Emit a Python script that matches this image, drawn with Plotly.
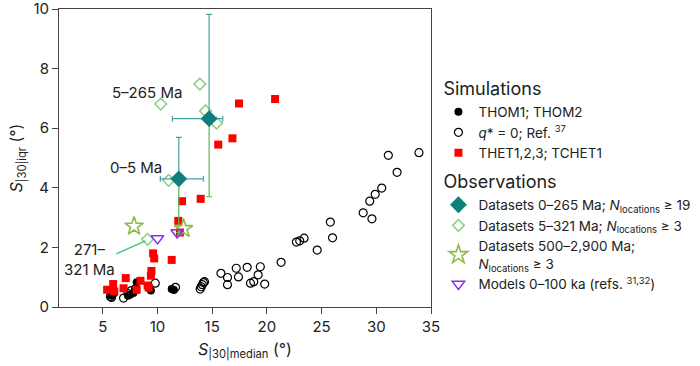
import plotly.graph_objects as go

# ---------------- data ----------------
q0_x = [5.7, 5.8, 6.9, 7.3, 7.6, 8.0, 9.8, 11.65, 13.9, 14.0, 14.1, 14.2, 14.3,
        15.8, 16.4, 16.4, 17.2, 17.4, 18.2, 18.5, 18.8, 19.2, 19.4, 19.8, 21.3,
        22.7, 23.0, 23.4, 24.6, 25.8, 26.0, 28.8, 29.6, 29.4, 29.9, 30.5, 31.1,
        31.9, 33.9]
q0_y = [0.35, 0.32, 0.30, 0.45, 0.55, 0.62, 0.80, 0.66, 0.60, 0.68, 0.75, 0.82,
        0.85, 1.13, 0.99, 0.75, 1.30, 1.01, 1.33, 0.80, 0.85, 1.08, 1.35, 0.77,
        1.50, 2.18, 2.22, 2.31, 1.91, 2.85, 2.32, 3.16, 2.96, 3.55, 3.78, 3.99,
        5.09, 4.52, 5.18]

thom_x = [5.8, 6.0, 7.3, 7.5, 7.8, 8.0, 8.1, 9.4, 11.3, 11.5]
thom_y = [0.38, 0.45, 0.38, 0.41, 0.47, 0.55, 0.83, 0.55, 0.60, 0.57]

thet_x = [5.4, 5.95, 6.05, 6.9, 7.1, 8.1, 8.45, 9.1, 9.2, 9.4, 9.45, 9.6, 9.7,
          11.3, 11.9, 12.05, 12.25, 13.95, 15.55, 16.85, 17.45, 20.75]
thet_y = [0.58, 0.77, 0.52, 0.63, 0.97, 0.58, 0.88, 0.72, 0.65, 1.05, 1.21, 1.80,
          1.63, 1.58, 2.89, 2.50, 3.55, 3.63, 5.45, 5.66, 6.83, 6.98]

obs_x = [11.95, 14.72]
obs_y = [4.30, 6.32]
obs_xerr_minus = [1.69, 3.36]
obs_xerr_plus = [2.25, 1.25]
obs_yerr_plus = [1.39, 3.50]
obs_yerr_minus = [1.80, 2.62]

ds5_x = [10.3, 13.87, 14.39, 15.40, 11.02, 9.09]
ds5_y = [6.81, 7.48, 6.58, 6.17, 4.25, 2.27]

ds500_x = [7.86, 12.38]
ds500_y = [2.71, 2.63]

mod_x = [10.0, 11.8]
mod_y = [2.30, 2.50]

x_ticks = [5, 10, 15, 20, 25, 30, 35]
y_ticks = [0, 2, 4, 6, 8, 10]

FONT = "Inter, 'Noto Sans', sans-serif"

fig = go.Figure()

fig.add_trace(go.Scatter(
    x=q0_x, y=q0_y, mode="markers", name="<i>q</i>* = 0; Ref. <sup>37</sup>",
    legendgroup="sim", legendgrouptitle_text="Simulations", legendrank=2,
    marker=dict(symbol="circle-open", size=8, color="black", line=dict(width=1.2))))
fig.add_trace(go.Scatter(
    x=thom_x, y=thom_y, mode="markers", name="THOM1; THOM2",
    legendgroup="sim", legendgrouptitle_text="Simulations", legendrank=1,
    marker=dict(symbol="circle", size=8, color="black")))
fig.add_trace(go.Scatter(
    x=thet_x, y=thet_y, mode="markers", name="THET1,2,3; TCHET1",
    legendgroup="sim", legendgrouptitle_text="Simulations", legendrank=3,
    marker=dict(symbol="square", size=8, color="#ff0000")))

# lower error bars (green)
fig.add_trace(go.Scatter(
    x=obs_x, y=obs_y, mode="markers", showlegend=False, hoverinfo="skip",
    marker=dict(size=1, color="rgba(0,0,0,0)"),
    error_y=dict(type="data", symmetric=False, array=[0, 0], arrayminus=obs_yerr_minus,
                 color="#5cb85c", thickness=1.2, width=3)))

fig.add_trace(go.Scatter(
    x=ds5_x, y=ds5_y, mode="markers",
    name="Datasets 5–321 Ma; <i>N</i><sub>locations</sub> ≥ 3",
    legendgroup="obs", legendgrouptitle_text="Observations", legendrank=5,
    marker=dict(symbol="diamond-open", size=9, color="#86d07c", line=dict(width=1.5))))

fig.add_trace(go.Scatter(
    x=obs_x, y=obs_y, mode="markers",
    name="Datasets 0–265 Ma; <i>N</i><sub>locations</sub> ≥ 19",
    legendgroup="obs", legendgrouptitle_text="Observations", legendrank=4,
    marker=dict(symbol="diamond", size=13, color="#0e7f7b"),
    error_x=dict(type="data", symmetric=False, array=obs_xerr_plus, arrayminus=obs_xerr_minus,
                 color="#46a3a3", thickness=1.2, width=3),
    error_y=dict(type="data", symmetric=False, array=obs_yerr_plus, arrayminus=[0, 0],
                 color="#46a3a3", thickness=1.2, width=3)))

fig.add_trace(go.Scatter(
    x=ds500_x, y=ds500_y, mode="markers",
    name="Datasets 500–2,900 Ma;<br><i>N</i><sub>locations</sub> ≥ 3",
    legendgroup="obs", legendgrouptitle_text="Observations", legendrank=6,
    marker=dict(symbol="star-open", size=14, color="#8dbb45", line=dict(width=1.6))))

fig.add_trace(go.Scatter(
    x=mod_x, y=mod_y, mode="markers",
    name="Models 0–100 ka (refs. <sup>31,32</sup>)",
    legendgroup="obs", legendgrouptitle_text="Observations", legendrank=7,
    marker=dict(symbol="triangle-down-open", size=11, color="#8b2cf5", line=dict(width=1.4))))

# annotations
fig.add_annotation(x=9.0, y=7.19, text="5–265 Ma", showarrow=False,
                   font=dict(size=15, family=FONT, color="#222"))
fig.add_annotation(x=8.08, y=4.67, text="0–5 Ma", showarrow=False,
                   font=dict(size=15, family=FONT, color="#222"))
fig.add_annotation(x=3.81, y=1.58, text="271–<br>321 Ma", showarrow=False, align="center",
                   font=dict(size=15, family=FONT, color="#222"))
fig.add_shape(type="line", x0=6.24, y0=1.78, x1=8.9, y1=2.22,
              line=dict(color="#3cc47c", width=1.3))

fig.update_layout(
    width=700, height=366,
    margin=dict(l=59, r=269, t=9, b=59, autoexpand=False),
    plot_bgcolor="white", paper_bgcolor="white",
    font=dict(family=FONT, size=15, color="#222"),
    showlegend=True,
    legend=dict(x=1.02, xanchor="left", y=0.795, yanchor="top",
                font=dict(size=13.5, family=FONT), tracegroupgap=5,
                grouptitlefont=dict(size=18, family=FONT),
                itemwidth=30, bgcolor="rgba(0,0,0,0)"),
    xaxis=dict(range=[1, 35], tickvals=x_ticks, ticks="outside", ticklen=6,
               showline=True, linecolor="#444", linewidth=1, mirror=True,
               showgrid=False, zeroline=False, ticklabeloverflow="allow",
               title=dict(text="<i>S</i><sub>|30|median</sub> (°)", standoff=8,
                          font=dict(size=16))),
    yaxis=dict(range=[0, 10], tickvals=y_ticks, ticks="outside", ticklen=6,
               showline=True, linecolor="#444", linewidth=1, mirror=True,
               showgrid=False, zeroline=False, ticklabeloverflow="allow",
               title=dict(text="<i>S</i><sub>|30|iqr</sub> (°)", standoff=6,
                          font=dict(size=16))),
)

fig.write_html("out.html")
